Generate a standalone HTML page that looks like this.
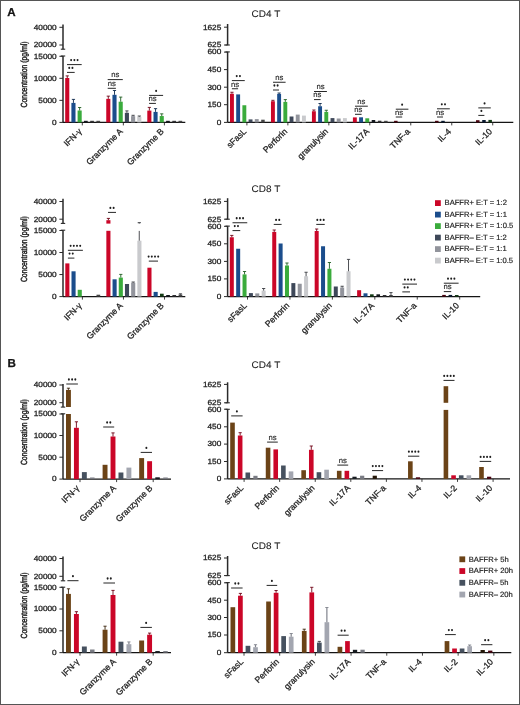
<!DOCTYPE html>
<html><head><meta charset="utf-8"><title>Figure</title>
<style>
html,body{margin:0;padding:0;background:#fff;overflow:hidden;width:520px;height:705px;}
svg{display:block;font-family:"Liberation Sans", sans-serif;will-change:transform;filter:blur(0.35px);}
text{stroke:#222;stroke-width:0.28px;text-rendering:geometricPrecision;}
</style></head>
<body>
<svg width="520" height="705" viewBox="0 0 520 705">
<rect x="0.5" y="0.5" width="519" height="704" fill="#fff" stroke="#555" stroke-width="1"/>
<text x="7.2" y="16.3" font-size="11.6" text-anchor="start" font-weight="bold" fill="#111" >A</text>
<text x="7.4" y="367.1" font-size="11.6" text-anchor="start" font-weight="bold" fill="#111" >B</text>
<line x1="63" y1="24.6" x2="63" y2="49.2" stroke="#2a2a2a" stroke-width="1.5"/>
<line x1="60.8" y1="49.2" x2="65.2" y2="49.2" stroke="#2a2a2a" stroke-width="1.1"/>
<line x1="63" y1="56" x2="63" y2="122.4" stroke="#2a2a2a" stroke-width="1.5"/>
<line x1="60.8" y1="56" x2="65.2" y2="56" stroke="#2a2a2a" stroke-width="1.1"/>
<line x1="59.4" y1="27.3" x2="63" y2="27.3" stroke="#2a2a2a" stroke-width="1"/>
<text transform="translate(56.7 29.6) scale(1.1 1)" font-size="7.5" text-anchor="end" fill="#222" >40000</text>
<line x1="59.4" y1="45" x2="63" y2="45" stroke="#2a2a2a" stroke-width="1"/>
<text transform="translate(56.7 47.3) scale(1.1 1)" font-size="7.5" text-anchor="end" fill="#222" >20000</text>
<line x1="59.4" y1="56.3" x2="63" y2="56.3" stroke="#2a2a2a" stroke-width="1"/>
<text transform="translate(56.7 58.6) scale(1.1 1)" font-size="7.5" text-anchor="end" fill="#222" >15000</text>
<line x1="59.4" y1="78.3" x2="63" y2="78.3" stroke="#2a2a2a" stroke-width="1"/>
<text transform="translate(56.7 80.6) scale(1.1 1)" font-size="7.5" text-anchor="end" fill="#222" >10000</text>
<line x1="59.4" y1="100.35" x2="63" y2="100.35" stroke="#2a2a2a" stroke-width="1"/>
<text transform="translate(56.7 102.65) scale(1.1 1)" font-size="7.5" text-anchor="end" fill="#222" >5000</text>
<line x1="59.4" y1="122.4" x2="63" y2="122.4" stroke="#2a2a2a" stroke-width="1"/>
<text transform="translate(56.7 124.7) scale(1.1 1)" font-size="7.5" text-anchor="end" fill="#222" >0</text>
<text transform="translate(26.8 74.4) rotate(-90)" x="0" y="0" font-size="8.9" text-anchor="middle" fill="#222" style="stroke-width:0.45px" textLength="66" lengthAdjust="spacingAndGlyphs">Concentration (pg/ml)</text>
<line x1="63" y1="122.4" x2="185.3" y2="122.4" stroke="#141414" stroke-width="1.3"/>
<line x1="82.3" y1="122.4" x2="82.3" y2="125.4" stroke="#2a2a2a" stroke-width="0.9"/>
<line x1="123.35" y1="122.4" x2="123.35" y2="125.4" stroke="#2a2a2a" stroke-width="0.9"/>
<line x1="164.4" y1="122.4" x2="164.4" y2="125.4" stroke="#2a2a2a" stroke-width="0.9"/>
<rect x="65.2" y="78" width="4.1" height="44.4" fill="#cb0628"/>
<line x1="67.25" y1="75.9" x2="67.25" y2="78" stroke="#6f0316" stroke-width="0.9"/>
<line x1="65.65" y1="75.9" x2="68.85" y2="75.9" stroke="#6f0316" stroke-width="0.9"/>
<rect x="71.4" y="102.9" width="4.1" height="19.5" fill="#1b4d8c"/>
<line x1="73.45" y1="99.4" x2="73.45" y2="102.9" stroke="#0e2a4d" stroke-width="0.9"/>
<line x1="71.85" y1="99.4" x2="75.05" y2="99.4" stroke="#0e2a4d" stroke-width="0.9"/>
<rect x="77.6" y="110.5" width="4.1" height="11.9" fill="#3aab3c"/>
<line x1="79.65" y1="107.5" x2="79.65" y2="110.5" stroke="#1f5e21" stroke-width="0.9"/>
<line x1="78.05" y1="107.5" x2="81.25" y2="107.5" stroke="#1f5e21" stroke-width="0.9"/>
<rect x="84" y="120.8" width="3.7" height="1.6" fill="#15191f"/>
<rect x="90.2" y="120.8" width="3.7" height="1.6" fill="#333336"/>
<rect x="96.4" y="120.8" width="3.7" height="1.6" fill="#464647"/>
<rect x="106.25" y="98.85" width="4.1" height="23.55" fill="#cb0628"/>
<line x1="108.3" y1="96.15" x2="108.3" y2="98.85" stroke="#6f0316" stroke-width="0.9"/>
<line x1="106.7" y1="96.15" x2="109.9" y2="96.15" stroke="#6f0316" stroke-width="0.9"/>
<rect x="112.45" y="94.8" width="4.1" height="27.6" fill="#1b4d8c"/>
<line x1="114.5" y1="90.5" x2="114.5" y2="94.8" stroke="#0e2a4d" stroke-width="0.9"/>
<line x1="112.9" y1="90.5" x2="116.1" y2="90.5" stroke="#0e2a4d" stroke-width="0.9"/>
<rect x="118.65" y="101.7" width="4.1" height="20.7" fill="#3aab3c"/>
<line x1="120.7" y1="97.1" x2="120.7" y2="101.7" stroke="#1f5e21" stroke-width="0.9"/>
<line x1="119.1" y1="97.1" x2="122.3" y2="97.1" stroke="#1f5e21" stroke-width="0.9"/>
<rect x="124.85" y="112.8" width="4.1" height="9.6" fill="#3e4859"/>
<line x1="126.9" y1="110.9" x2="126.9" y2="112.8" stroke="#3a3c42" stroke-width="0.9"/>
<line x1="125.3" y1="110.9" x2="128.5" y2="110.9" stroke="#3a3c42" stroke-width="0.9"/>
<rect x="131.05" y="116.15" width="4.1" height="6.25" fill="#92949c"/>
<line x1="133.1" y1="115.3" x2="133.1" y2="116.15" stroke="#3a3c42" stroke-width="0.9"/>
<line x1="131.5" y1="115.3" x2="134.7" y2="115.3" stroke="#3a3c42" stroke-width="0.9"/>
<rect x="137.25" y="116.8" width="4.1" height="5.6" fill="#c9cacd"/>
<line x1="139.3" y1="116" x2="139.3" y2="116.8" stroke="#3a3c42" stroke-width="0.9"/>
<line x1="137.7" y1="116" x2="140.9" y2="116" stroke="#3a3c42" stroke-width="0.9"/>
<rect x="147.3" y="110.6" width="4.1" height="11.8" fill="#cb0628"/>
<line x1="149.35" y1="107.4" x2="149.35" y2="110.6" stroke="#6f0316" stroke-width="0.9"/>
<line x1="147.75" y1="107.4" x2="150.95" y2="107.4" stroke="#6f0316" stroke-width="0.9"/>
<rect x="153.5" y="111.9" width="4.1" height="10.5" fill="#1b4d8c"/>
<line x1="155.55" y1="108.65" x2="155.55" y2="111.9" stroke="#0e2a4d" stroke-width="0.9"/>
<line x1="153.95" y1="108.65" x2="157.15" y2="108.65" stroke="#0e2a4d" stroke-width="0.9"/>
<rect x="159.7" y="116.05" width="4.1" height="6.35" fill="#3aab3c"/>
<line x1="161.75" y1="113.85" x2="161.75" y2="116.05" stroke="#1f5e21" stroke-width="0.9"/>
<line x1="160.15" y1="113.85" x2="163.35" y2="113.85" stroke="#1f5e21" stroke-width="0.9"/>
<rect x="166.1" y="120.8" width="3.7" height="1.6" fill="#15191f"/>
<rect x="172.3" y="120.8" width="3.7" height="1.6" fill="#333336"/>
<rect x="178.5" y="120.8" width="3.7" height="1.6" fill="#464647"/>
<line x1="67" y1="64.6" x2="81.7" y2="64.6" stroke="#262626" stroke-width="1"/>
<ellipse cx="71.15" cy="60.1" rx="1.0" ry="1.15" fill="#1e1e1e"/>
<ellipse cx="74.35" cy="60.1" rx="1.0" ry="1.15" fill="#1e1e1e"/>
<ellipse cx="77.55" cy="60.1" rx="1.0" ry="1.15" fill="#1e1e1e"/>
<line x1="67" y1="72.4" x2="74.7" y2="72.4" stroke="#262626" stroke-width="1"/>
<ellipse cx="69.25" cy="67.9" rx="1.0" ry="1.15" fill="#1e1e1e"/>
<ellipse cx="72.45" cy="67.9" rx="1.0" ry="1.15" fill="#1e1e1e"/>
<line x1="107.7" y1="79.6" x2="122.8" y2="79.6" stroke="#262626" stroke-width="1"/>
<text x="115.25" y="77.4" font-size="7.7" text-anchor="middle" font-weight="normal" fill="#222" style="stroke-width:0.12px">ns</text>
<line x1="107.7" y1="88.3" x2="115.9" y2="88.3" stroke="#262626" stroke-width="1"/>
<text x="111.8" y="86.1" font-size="7.7" text-anchor="middle" font-weight="normal" fill="#222" style="stroke-width:0.12px">ns</text>
<line x1="149.1" y1="95.4" x2="163.1" y2="95.4" stroke="#262626" stroke-width="1"/>
<ellipse cx="156.1" cy="90.9" rx="1.0" ry="1.15" fill="#1e1e1e"/>
<line x1="149.1" y1="103.4" x2="155.9" y2="103.4" stroke="#262626" stroke-width="1"/>
<text x="152.5" y="101.2" font-size="7.7" text-anchor="middle" font-weight="normal" fill="#222" style="stroke-width:0.12px">ns</text>
<text transform="translate(82.2 132) rotate(-45)" x="0" y="0" font-size="8.6" text-anchor="end" fill="#222">IFN-&#947;</text>
<text transform="translate(123.25 132) rotate(-45)" x="0" y="0" font-size="8.6" text-anchor="end" fill="#222">Granzyme A</text>
<text transform="translate(164.3 132) rotate(-45)" x="0" y="0" font-size="8.6" text-anchor="end" fill="#222">Granzyme B</text>
<line x1="63" y1="198.8" x2="63" y2="223.4" stroke="#2a2a2a" stroke-width="1.5"/>
<line x1="60.8" y1="223.4" x2="65.2" y2="223.4" stroke="#2a2a2a" stroke-width="1.1"/>
<line x1="63" y1="230.2" x2="63" y2="296.6" stroke="#2a2a2a" stroke-width="1.5"/>
<line x1="60.8" y1="230.2" x2="65.2" y2="230.2" stroke="#2a2a2a" stroke-width="1.1"/>
<line x1="59.4" y1="201.5" x2="63" y2="201.5" stroke="#2a2a2a" stroke-width="1"/>
<text transform="translate(56.7 203.8) scale(1.1 1)" font-size="7.5" text-anchor="end" fill="#222" >40000</text>
<line x1="59.4" y1="219.2" x2="63" y2="219.2" stroke="#2a2a2a" stroke-width="1"/>
<text transform="translate(56.7 221.5) scale(1.1 1)" font-size="7.5" text-anchor="end" fill="#222" >20000</text>
<line x1="59.4" y1="230.5" x2="63" y2="230.5" stroke="#2a2a2a" stroke-width="1"/>
<text transform="translate(56.7 232.8) scale(1.1 1)" font-size="7.5" text-anchor="end" fill="#222" >15000</text>
<line x1="59.4" y1="252.5" x2="63" y2="252.5" stroke="#2a2a2a" stroke-width="1"/>
<text transform="translate(56.7 254.8) scale(1.1 1)" font-size="7.5" text-anchor="end" fill="#222" >10000</text>
<line x1="59.4" y1="274.55" x2="63" y2="274.55" stroke="#2a2a2a" stroke-width="1"/>
<text transform="translate(56.7 276.85) scale(1.1 1)" font-size="7.5" text-anchor="end" fill="#222" >5000</text>
<line x1="59.4" y1="296.6" x2="63" y2="296.6" stroke="#2a2a2a" stroke-width="1"/>
<text transform="translate(56.7 298.9) scale(1.1 1)" font-size="7.5" text-anchor="end" fill="#222" >0</text>
<text transform="translate(26.8 249.1) rotate(-90)" x="0" y="0" font-size="8.9" text-anchor="middle" fill="#222" style="stroke-width:0.45px" textLength="66" lengthAdjust="spacingAndGlyphs">Concentration (pg/ml)</text>
<line x1="63" y1="296.6" x2="185.3" y2="296.6" stroke="#141414" stroke-width="1.3"/>
<line x1="82.4" y1="296.6" x2="82.4" y2="299.6" stroke="#2a2a2a" stroke-width="0.9"/>
<line x1="123.45" y1="296.6" x2="123.45" y2="299.6" stroke="#2a2a2a" stroke-width="0.9"/>
<line x1="164.5" y1="296.6" x2="164.5" y2="299.6" stroke="#2a2a2a" stroke-width="0.9"/>
<rect x="65.3" y="263.4" width="4.1" height="33.2" fill="#cb0628"/>
<rect x="71.5" y="271.3" width="4.1" height="25.3" fill="#1b4d8c"/>
<rect x="77.7" y="289.8" width="4.1" height="6.8" fill="#3aab3c"/>
<rect x="96.5" y="294.7" width="3.7" height="1.9" fill="#464647"/>
<rect x="106.35" y="230.8" width="4.1" height="65.8" fill="#cb0628"/>
<rect x="106.35" y="220.2" width="4.1" height="3.4" fill="#cb0628"/>
<line x1="108.4" y1="218.4" x2="108.4" y2="220.2" stroke="#6f0316" stroke-width="0.9"/>
<line x1="106.8" y1="218.4" x2="110" y2="218.4" stroke="#6f0316" stroke-width="0.9"/>
<rect x="112.55" y="279.3" width="4.1" height="17.3" fill="#1b4d8c"/>
<rect x="118.75" y="277.6" width="4.1" height="19" fill="#3aab3c"/>
<line x1="120.8" y1="274.4" x2="120.8" y2="277.6" stroke="#1f5e21" stroke-width="0.9"/>
<line x1="119.2" y1="274.4" x2="122.4" y2="274.4" stroke="#1f5e21" stroke-width="0.9"/>
<rect x="124.95" y="284" width="4.1" height="12.6" fill="#3e4859"/>
<rect x="131.15" y="282.75" width="4.1" height="13.85" fill="#92949c"/>
<line x1="133.2" y1="282" x2="133.2" y2="282.75" stroke="#3a3c42" stroke-width="0.9"/>
<line x1="131.6" y1="282" x2="134.8" y2="282" stroke="#3a3c42" stroke-width="0.9"/>
<rect x="137.35" y="240.7" width="4.1" height="55.9" fill="#c9cacd"/>
<rect x="147.4" y="267.7" width="4.1" height="28.9" fill="#cb0628"/>
<rect x="153.6" y="291.9" width="4.1" height="4.7" fill="#1b4d8c"/>
<rect x="160" y="293.7" width="3.7" height="2.9" fill="#143b15"/>
<rect x="166.2" y="295" width="3.7" height="1.6" fill="#15191f"/>
<rect x="172.4" y="295" width="3.7" height="1.6" fill="#333336"/>
<rect x="178.6" y="294.5" width="3.7" height="2.1" fill="#464647"/>
<line x1="180.45" y1="293.8" x2="180.45" y2="294.8" stroke="#3a3c42" stroke-width="0.9"/>
<line x1="178.85" y1="293.8" x2="182.05" y2="293.8" stroke="#3a3c42" stroke-width="0.9"/>
<line x1="67.9" y1="250.3" x2="82.9" y2="250.3" stroke="#262626" stroke-width="1"/>
<ellipse cx="70.6" cy="245.8" rx="1.0" ry="1.15" fill="#1e1e1e"/>
<ellipse cx="73.8" cy="245.8" rx="1.0" ry="1.15" fill="#1e1e1e"/>
<ellipse cx="77" cy="245.8" rx="1.0" ry="1.15" fill="#1e1e1e"/>
<ellipse cx="80.2" cy="245.8" rx="1.0" ry="1.15" fill="#1e1e1e"/>
<line x1="67.9" y1="258.1" x2="74.4" y2="258.1" stroke="#262626" stroke-width="1"/>
<ellipse cx="69.55" cy="253.6" rx="1.0" ry="1.15" fill="#1e1e1e"/>
<ellipse cx="72.75" cy="253.6" rx="1.0" ry="1.15" fill="#1e1e1e"/>
<line x1="108" y1="212.4" x2="116" y2="212.4" stroke="#262626" stroke-width="1"/>
<ellipse cx="110.4" cy="207.9" rx="1.0" ry="1.15" fill="#1e1e1e"/>
<ellipse cx="113.6" cy="207.9" rx="1.0" ry="1.15" fill="#1e1e1e"/>
<line x1="148.8" y1="261.1" x2="158" y2="261.1" stroke="#262626" stroke-width="1"/>
<ellipse cx="148.6" cy="256.6" rx="1.0" ry="1.15" fill="#1e1e1e"/>
<ellipse cx="151.8" cy="256.6" rx="1.0" ry="1.15" fill="#1e1e1e"/>
<ellipse cx="155" cy="256.6" rx="1.0" ry="1.15" fill="#1e1e1e"/>
<ellipse cx="158.2" cy="256.6" rx="1.0" ry="1.15" fill="#1e1e1e"/>
<text transform="translate(82.3 306.2) rotate(-45)" x="0" y="0" font-size="8.6" text-anchor="end" fill="#222">IFN-&#947;</text>
<text transform="translate(123.35 306.2) rotate(-45)" x="0" y="0" font-size="8.6" text-anchor="end" fill="#222">Granzyme A</text>
<text transform="translate(164.4 306.2) rotate(-45)" x="0" y="0" font-size="8.6" text-anchor="end" fill="#222">Granzyme B</text>
<line x1="139.25" y1="230.9" x2="139.25" y2="240.7" stroke="#3a3c42" stroke-width="0.9"/>
<line x1="137.7" y1="222.7" x2="140.9" y2="222.7" stroke="#3a3c42" stroke-width="1"/>
<line x1="139.25" y1="222.7" x2="139.25" y2="223.6" stroke="#3a3c42" stroke-width="0.9"/>
<line x1="63" y1="384" x2="63" y2="407.1" stroke="#2a2a2a" stroke-width="1.5"/>
<line x1="60.8" y1="407.1" x2="65.2" y2="407.1" stroke="#2a2a2a" stroke-width="1.1"/>
<line x1="63" y1="413.8" x2="63" y2="479.1" stroke="#2a2a2a" stroke-width="1.5"/>
<line x1="60.8" y1="413.8" x2="65.2" y2="413.8" stroke="#2a2a2a" stroke-width="1.1"/>
<line x1="59.4" y1="385" x2="63" y2="385" stroke="#2a2a2a" stroke-width="1"/>
<text transform="translate(56.7 387.3) scale(1.1 1)" font-size="7.5" text-anchor="end" fill="#222" >40000</text>
<line x1="59.4" y1="402.7" x2="63" y2="402.7" stroke="#2a2a2a" stroke-width="1"/>
<text transform="translate(56.7 405) scale(1.1 1)" font-size="7.5" text-anchor="end" fill="#222" >20000</text>
<line x1="59.4" y1="414" x2="63" y2="414" stroke="#2a2a2a" stroke-width="1"/>
<text transform="translate(56.7 416.3) scale(1.1 1)" font-size="7.5" text-anchor="end" fill="#222" >15000</text>
<line x1="59.4" y1="435.5" x2="63" y2="435.5" stroke="#2a2a2a" stroke-width="1"/>
<text transform="translate(56.7 437.8) scale(1.1 1)" font-size="7.5" text-anchor="end" fill="#222" >10000</text>
<line x1="59.4" y1="457.2" x2="63" y2="457.2" stroke="#2a2a2a" stroke-width="1"/>
<text transform="translate(56.7 459.5) scale(1.1 1)" font-size="7.5" text-anchor="end" fill="#222" >5000</text>
<line x1="59.4" y1="479.1" x2="63" y2="479.1" stroke="#2a2a2a" stroke-width="1"/>
<text transform="translate(56.7 481.4) scale(1.1 1)" font-size="7.5" text-anchor="end" fill="#222" >0</text>
<text transform="translate(26.8 432.1) rotate(-90)" x="0" y="0" font-size="8.9" text-anchor="middle" fill="#222" style="stroke-width:0.45px" textLength="66" lengthAdjust="spacingAndGlyphs">Concentration (pg/ml)</text>
<line x1="63" y1="479.1" x2="171" y2="479.1" stroke="#141414" stroke-width="1.3"/>
<line x1="80" y1="479.1" x2="80" y2="482.1" stroke="#2a2a2a" stroke-width="0.9"/>
<line x1="116.6" y1="479.1" x2="116.6" y2="482.1" stroke="#2a2a2a" stroke-width="0.9"/>
<line x1="153.2" y1="479.1" x2="153.2" y2="482.1" stroke="#2a2a2a" stroke-width="0.9"/>
<rect x="66" y="414" width="4.9" height="65.1" fill="#6b4317"/>
<rect x="66" y="389.9" width="4.9" height="17.1" fill="#6b4317"/>
<line x1="68.45" y1="388.2" x2="68.45" y2="389.9" stroke="#3a240c" stroke-width="0.9"/>
<line x1="66.85" y1="388.2" x2="70.05" y2="388.2" stroke="#3a240c" stroke-width="0.9"/>
<rect x="73.95" y="427.8" width="4.9" height="51.3" fill="#cb0628"/>
<line x1="76.4" y1="421.8" x2="76.4" y2="427.8" stroke="#6f0316" stroke-width="0.9"/>
<line x1="74.8" y1="421.8" x2="78" y2="421.8" stroke="#6f0316" stroke-width="0.9"/>
<rect x="81.9" y="472.1" width="4.9" height="7" fill="#46515f"/>
<rect x="90.05" y="477.5" width="4.5" height="1.6" fill="#7a7c84"/>
<rect x="102.6" y="464.8" width="4.9" height="14.3" fill="#6b4317"/>
<rect x="110.55" y="436.5" width="4.9" height="42.6" fill="#cb0628"/>
<line x1="113" y1="432.9" x2="113" y2="436.5" stroke="#6f0316" stroke-width="0.9"/>
<line x1="111.4" y1="432.9" x2="114.6" y2="432.9" stroke="#6f0316" stroke-width="0.9"/>
<rect x="118.5" y="472.5" width="4.9" height="6.6" fill="#46515f"/>
<rect x="126.45" y="467.6" width="4.9" height="11.5" fill="#a3a6b0"/>
<rect x="139.2" y="458.1" width="4.9" height="21" fill="#6b4317"/>
<rect x="147.15" y="461.2" width="4.9" height="17.9" fill="#cb0628"/>
<rect x="155.3" y="477.3" width="4.5" height="1.8" fill="#181c21"/>
<rect x="163.25" y="477.5" width="4.5" height="1.6" fill="#7a7c84"/>
<line x1="66.3" y1="384" x2="77.9" y2="384" stroke="#262626" stroke-width="1"/>
<ellipse cx="68.9" cy="379.5" rx="1.0" ry="1.15" fill="#1e1e1e"/>
<ellipse cx="72.1" cy="379.5" rx="1.0" ry="1.15" fill="#1e1e1e"/>
<ellipse cx="75.3" cy="379.5" rx="1.0" ry="1.15" fill="#1e1e1e"/>
<line x1="103.2" y1="427" x2="114.2" y2="427" stroke="#262626" stroke-width="1"/>
<ellipse cx="107.1" cy="422.5" rx="1.0" ry="1.15" fill="#1e1e1e"/>
<ellipse cx="110.3" cy="422.5" rx="1.0" ry="1.15" fill="#1e1e1e"/>
<line x1="140.7" y1="452.4" x2="152" y2="452.4" stroke="#262626" stroke-width="1"/>
<ellipse cx="146.35" cy="447.9" rx="1.0" ry="1.15" fill="#1e1e1e"/>
<text transform="translate(79.9 488.7) rotate(-45)" x="0" y="0" font-size="8.6" text-anchor="end" fill="#222">IFN-&#947;</text>
<text transform="translate(116.5 488.7) rotate(-45)" x="0" y="0" font-size="8.6" text-anchor="end" fill="#222">Granzyme A</text>
<text transform="translate(153.1 488.7) rotate(-45)" x="0" y="0" font-size="8.6" text-anchor="end" fill="#222">Granzyme B</text>
<line x1="63" y1="556.5" x2="63" y2="580.8" stroke="#2a2a2a" stroke-width="1.5"/>
<line x1="60.8" y1="580.8" x2="65.2" y2="580.8" stroke="#2a2a2a" stroke-width="1.1"/>
<line x1="63" y1="587.2" x2="63" y2="652.65" stroke="#2a2a2a" stroke-width="1.5"/>
<line x1="60.8" y1="587.2" x2="65.2" y2="587.2" stroke="#2a2a2a" stroke-width="1.1"/>
<line x1="59.4" y1="558.5" x2="63" y2="558.5" stroke="#2a2a2a" stroke-width="1"/>
<text transform="translate(56.7 560.8) scale(1.1 1)" font-size="7.5" text-anchor="end" fill="#222" >40000</text>
<line x1="59.4" y1="576.3" x2="63" y2="576.3" stroke="#2a2a2a" stroke-width="1"/>
<text transform="translate(56.7 578.6) scale(1.1 1)" font-size="7.5" text-anchor="end" fill="#222" >20000</text>
<line x1="59.4" y1="587.3" x2="63" y2="587.3" stroke="#2a2a2a" stroke-width="1"/>
<text transform="translate(56.7 589.6) scale(1.1 1)" font-size="7.5" text-anchor="end" fill="#222" >15000</text>
<line x1="59.4" y1="609" x2="63" y2="609" stroke="#2a2a2a" stroke-width="1"/>
<text transform="translate(56.7 611.3) scale(1.1 1)" font-size="7.5" text-anchor="end" fill="#222" >10000</text>
<line x1="59.4" y1="630.8" x2="63" y2="630.8" stroke="#2a2a2a" stroke-width="1"/>
<text transform="translate(56.7 633.1) scale(1.1 1)" font-size="7.5" text-anchor="end" fill="#222" >5000</text>
<line x1="59.4" y1="652.65" x2="63" y2="652.65" stroke="#2a2a2a" stroke-width="1"/>
<text transform="translate(56.7 654.95) scale(1.1 1)" font-size="7.5" text-anchor="end" fill="#222" >0</text>
<text transform="translate(26.8 605.4) rotate(-90)" x="0" y="0" font-size="8.9" text-anchor="middle" fill="#222" style="stroke-width:0.45px" textLength="66" lengthAdjust="spacingAndGlyphs">Concentration (pg/ml)</text>
<line x1="63" y1="652.65" x2="171" y2="652.65" stroke="#141414" stroke-width="1.3"/>
<line x1="80" y1="652.65" x2="80" y2="655.65" stroke="#2a2a2a" stroke-width="0.9"/>
<line x1="116.6" y1="652.65" x2="116.6" y2="655.65" stroke="#2a2a2a" stroke-width="0.9"/>
<line x1="153.2" y1="652.65" x2="153.2" y2="655.65" stroke="#2a2a2a" stroke-width="0.9"/>
<rect x="66" y="593.9" width="4.9" height="58.75" fill="#6b4317"/>
<line x1="68.45" y1="588.8" x2="68.45" y2="593.9" stroke="#3a240c" stroke-width="0.9"/>
<line x1="66.85" y1="588.8" x2="70.05" y2="588.8" stroke="#3a240c" stroke-width="0.9"/>
<rect x="73.95" y="614" width="4.9" height="38.65" fill="#cb0628"/>
<line x1="76.4" y1="611.7" x2="76.4" y2="614" stroke="#6f0316" stroke-width="0.9"/>
<line x1="74.8" y1="611.7" x2="78" y2="611.7" stroke="#6f0316" stroke-width="0.9"/>
<rect x="81.9" y="646.5" width="4.9" height="6.15" fill="#46515f"/>
<rect x="90.05" y="649.5" width="4.5" height="3.15" fill="#7a7c84"/>
<rect x="102.6" y="629.7" width="4.9" height="22.95" fill="#6b4317"/>
<line x1="105.05" y1="626.2" x2="105.05" y2="629.7" stroke="#3a240c" stroke-width="0.9"/>
<line x1="103.45" y1="626.2" x2="106.65" y2="626.2" stroke="#3a240c" stroke-width="0.9"/>
<rect x="110.55" y="595" width="4.9" height="57.65" fill="#cb0628"/>
<line x1="113" y1="590.4" x2="113" y2="595" stroke="#6f0316" stroke-width="0.9"/>
<line x1="111.4" y1="590.4" x2="114.6" y2="590.4" stroke="#6f0316" stroke-width="0.9"/>
<rect x="118.5" y="641.7" width="4.9" height="10.95" fill="#46515f"/>
<rect x="126.45" y="644.2" width="4.9" height="8.45" fill="#a3a6b0"/>
<line x1="128.9" y1="641.9" x2="128.9" y2="644.2" stroke="#80838c" stroke-width="1.2"/>
<line x1="127.3" y1="641.9" x2="130.5" y2="641.9" stroke="#80838c" stroke-width="0.9"/>
<rect x="139.2" y="640.5" width="4.9" height="12.15" fill="#6b4317"/>
<rect x="147.15" y="634.7" width="4.9" height="17.95" fill="#cb0628"/>
<line x1="149.6" y1="633.1" x2="149.6" y2="634.7" stroke="#6f0316" stroke-width="0.9"/>
<line x1="148" y1="633.1" x2="151.2" y2="633.1" stroke="#6f0316" stroke-width="0.9"/>
<rect x="155.3" y="651.05" width="4.5" height="1.6" fill="#181c21"/>
<rect x="163.25" y="651.05" width="4.5" height="1.6" fill="#7a7c84"/>
<line x1="67.4" y1="580.7" x2="78.5" y2="580.7" stroke="#262626" stroke-width="1"/>
<ellipse cx="72.95" cy="576.2" rx="1.0" ry="1.15" fill="#1e1e1e"/>
<line x1="103.4" y1="583" x2="115" y2="583" stroke="#262626" stroke-width="1"/>
<ellipse cx="107.6" cy="578.5" rx="1.0" ry="1.15" fill="#1e1e1e"/>
<ellipse cx="110.8" cy="578.5" rx="1.0" ry="1.15" fill="#1e1e1e"/>
<line x1="140.4" y1="627.4" x2="151.9" y2="627.4" stroke="#262626" stroke-width="1"/>
<ellipse cx="146.15" cy="622.9" rx="1.0" ry="1.15" fill="#1e1e1e"/>
<text transform="translate(79.9 662.25) rotate(-45)" x="0" y="0" font-size="8.6" text-anchor="end" fill="#222">IFN-&#947;</text>
<text transform="translate(116.5 662.25) rotate(-45)" x="0" y="0" font-size="8.6" text-anchor="end" fill="#222">Granzyme A</text>
<text transform="translate(153.1 662.25) rotate(-45)" x="0" y="0" font-size="8.6" text-anchor="end" fill="#222">Granzyme B</text>
<line x1="227.6" y1="24" x2="227.6" y2="45" stroke="#2a2a2a" stroke-width="1.5"/>
<line x1="225.4" y1="45" x2="229.8" y2="45" stroke="#2a2a2a" stroke-width="1.1"/>
<line x1="227.6" y1="51.9" x2="227.6" y2="122.4" stroke="#2a2a2a" stroke-width="1.5"/>
<line x1="225.4" y1="51.9" x2="229.8" y2="51.9" stroke="#2a2a2a" stroke-width="1.1"/>
<line x1="224" y1="27.2" x2="227.6" y2="27.2" stroke="#2a2a2a" stroke-width="1"/>
<text transform="translate(221.3 29.5) scale(1.1 1)" font-size="7.5" text-anchor="end" fill="#222" >1625</text>
<line x1="224" y1="45" x2="227.6" y2="45" stroke="#2a2a2a" stroke-width="1"/>
<text transform="translate(221.3 47.3) scale(1.1 1)" font-size="7.5" text-anchor="end" fill="#222" >625</text>
<line x1="224" y1="52.1" x2="227.6" y2="52.1" stroke="#2a2a2a" stroke-width="1"/>
<text transform="translate(221.3 54.4) scale(1.1 1)" font-size="7.5" text-anchor="end" fill="#222" >600</text>
<line x1="224" y1="69.6" x2="227.6" y2="69.6" stroke="#2a2a2a" stroke-width="1"/>
<text transform="translate(221.3 71.9) scale(1.1 1)" font-size="7.5" text-anchor="end" fill="#222" >450</text>
<line x1="224" y1="87.2" x2="227.6" y2="87.2" stroke="#2a2a2a" stroke-width="1"/>
<text transform="translate(221.3 89.5) scale(1.1 1)" font-size="7.5" text-anchor="end" fill="#222" >300</text>
<line x1="224" y1="104.7" x2="227.6" y2="104.7" stroke="#2a2a2a" stroke-width="1"/>
<text transform="translate(221.3 107) scale(1.1 1)" font-size="7.5" text-anchor="end" fill="#222" >150</text>
<line x1="224" y1="122.4" x2="227.6" y2="122.4" stroke="#2a2a2a" stroke-width="1"/>
<text transform="translate(221.3 124.7) scale(1.1 1)" font-size="7.5" text-anchor="end" fill="#222" >0</text>
<text transform="translate(265.9 17) scale(1.04 1)" font-size="9.6" text-anchor="middle" fill="#222" style="stroke-width:0.08px">CD4 T</text>
<line x1="227.6" y1="122.4" x2="513.3" y2="122.4" stroke="#141414" stroke-width="1.3"/>
<line x1="246.9" y1="122.4" x2="246.9" y2="125.4" stroke="#2a2a2a" stroke-width="0.9"/>
<line x1="287.87" y1="122.4" x2="287.87" y2="125.4" stroke="#2a2a2a" stroke-width="0.9"/>
<line x1="328.84" y1="122.4" x2="328.84" y2="125.4" stroke="#2a2a2a" stroke-width="0.9"/>
<line x1="369.81" y1="122.4" x2="369.81" y2="125.4" stroke="#2a2a2a" stroke-width="0.9"/>
<line x1="410.78" y1="122.4" x2="410.78" y2="125.4" stroke="#2a2a2a" stroke-width="0.9"/>
<line x1="451.75" y1="122.4" x2="451.75" y2="125.4" stroke="#2a2a2a" stroke-width="0.9"/>
<line x1="492.72" y1="122.4" x2="492.72" y2="125.4" stroke="#2a2a2a" stroke-width="0.9"/>
<rect x="230" y="93.75" width="3.9" height="28.65" fill="#cb0628"/>
<line x1="231.95" y1="92.25" x2="231.95" y2="93.75" stroke="#6f0316" stroke-width="0.9"/>
<line x1="230.35" y1="92.25" x2="233.55" y2="92.25" stroke="#6f0316" stroke-width="0.9"/>
<rect x="236.2" y="94.4" width="3.9" height="28" fill="#1b4d8c"/>
<rect x="242.4" y="105.25" width="3.9" height="17.15" fill="#3aab3c"/>
<rect x="248.6" y="119.4" width="3.9" height="3" fill="#3e4859"/>
<rect x="254.8" y="119.1" width="3.9" height="3.3" fill="#92949c"/>
<rect x="261.2" y="119.7" width="3.5" height="2.7" fill="#464647"/>
<rect x="270.97" y="101.25" width="3.9" height="21.15" fill="#cb0628"/>
<line x1="272.92" y1="100.3" x2="272.92" y2="101.25" stroke="#6f0316" stroke-width="0.9"/>
<line x1="271.32" y1="100.3" x2="274.52" y2="100.3" stroke="#6f0316" stroke-width="0.9"/>
<rect x="277.17" y="94" width="3.9" height="28.4" fill="#1b4d8c"/>
<line x1="279.12" y1="93" x2="279.12" y2="94" stroke="#0e2a4d" stroke-width="0.9"/>
<line x1="277.52" y1="93" x2="280.72" y2="93" stroke="#0e2a4d" stroke-width="0.9"/>
<rect x="283.37" y="101.9" width="3.9" height="20.5" fill="#3aab3c"/>
<line x1="285.32" y1="99.6" x2="285.32" y2="101.9" stroke="#1f5e21" stroke-width="0.9"/>
<line x1="283.72" y1="99.6" x2="286.92" y2="99.6" stroke="#1f5e21" stroke-width="0.9"/>
<rect x="289.57" y="116.5" width="3.9" height="5.9" fill="#3e4859"/>
<rect x="295.77" y="114.6" width="3.9" height="7.8" fill="#92949c"/>
<rect x="301.97" y="115.6" width="3.9" height="6.8" fill="#c9cacd"/>
<rect x="311.94" y="111.25" width="3.9" height="11.15" fill="#cb0628"/>
<line x1="313.89" y1="110" x2="313.89" y2="111.25" stroke="#6f0316" stroke-width="0.9"/>
<line x1="312.29" y1="110" x2="315.49" y2="110" stroke="#6f0316" stroke-width="0.9"/>
<rect x="318.14" y="106.25" width="3.9" height="16.15" fill="#1b4d8c"/>
<line x1="320.09" y1="103.5" x2="320.09" y2="106.25" stroke="#0e2a4d" stroke-width="0.9"/>
<line x1="318.49" y1="103.5" x2="321.69" y2="103.5" stroke="#0e2a4d" stroke-width="0.9"/>
<rect x="324.34" y="111.9" width="3.9" height="10.5" fill="#3aab3c"/>
<line x1="326.29" y1="110.25" x2="326.29" y2="111.9" stroke="#1f5e21" stroke-width="0.9"/>
<line x1="324.69" y1="110.25" x2="327.89" y2="110.25" stroke="#1f5e21" stroke-width="0.9"/>
<rect x="330.54" y="118.1" width="3.9" height="4.3" fill="#3e4859"/>
<rect x="336.74" y="118.5" width="3.9" height="3.9" fill="#92949c"/>
<rect x="342.94" y="118.1" width="3.9" height="4.3" fill="#c9cacd"/>
<rect x="352.91" y="117.4" width="3.9" height="5" fill="#cb0628"/>
<rect x="359.11" y="117.3" width="3.9" height="5.1" fill="#1b4d8c"/>
<rect x="365.31" y="118.3" width="3.9" height="4.1" fill="#3aab3c"/>
<rect x="371.71" y="120" width="3.5" height="2.4" fill="#15191f"/>
<rect x="377.91" y="120.7" width="3.5" height="1.7" fill="#333336"/>
<rect x="384.11" y="120.8" width="3.5" height="1.6" fill="#464647"/>
<rect x="394.08" y="120.8" width="3.5" height="1.6" fill="#47020e"/>
<rect x="435.05" y="120.8" width="3.5" height="1.6" fill="#47020e"/>
<rect x="441.25" y="120.8" width="3.5" height="1.6" fill="#091a31"/>
<rect x="476.02" y="120.2" width="3.5" height="2.2" fill="#47020e"/>
<rect x="482.22" y="120" width="3.5" height="2.4" fill="#091a31"/>
<rect x="488.42" y="119.9" width="3.5" height="2.5" fill="#143b15"/>
<line x1="231.9" y1="80.6" x2="244.75" y2="80.6" stroke="#262626" stroke-width="1"/>
<ellipse cx="236.72" cy="76.1" rx="1.0" ry="1.15" fill="#1e1e1e"/>
<ellipse cx="239.92" cy="76.1" rx="1.0" ry="1.15" fill="#1e1e1e"/>
<line x1="231.9" y1="88.75" x2="238.1" y2="88.75" stroke="#262626" stroke-width="1"/>
<text x="235" y="86.55" font-size="7.7" text-anchor="middle" font-weight="normal" fill="#222" style="stroke-width:0.12px">ns</text>
<line x1="273" y1="82.25" x2="285.6" y2="82.25" stroke="#262626" stroke-width="1"/>
<text x="279.3" y="80.05" font-size="7.7" text-anchor="middle" font-weight="normal" fill="#222" style="stroke-width:0.12px">ns</text>
<line x1="273" y1="90" x2="279" y2="90" stroke="#262626" stroke-width="1"/>
<ellipse cx="274.4" cy="85.5" rx="1.0" ry="1.15" fill="#1e1e1e"/>
<ellipse cx="277.6" cy="85.5" rx="1.0" ry="1.15" fill="#1e1e1e"/>
<line x1="314" y1="91.5" x2="326.9" y2="91.5" stroke="#262626" stroke-width="1"/>
<text x="320.45" y="89.3" font-size="7.7" text-anchor="middle" font-weight="normal" fill="#222" style="stroke-width:0.12px">ns</text>
<line x1="314" y1="99.6" x2="320.6" y2="99.6" stroke="#262626" stroke-width="1"/>
<text x="317.3" y="97.4" font-size="7.7" text-anchor="middle" font-weight="normal" fill="#222" style="stroke-width:0.12px">ns</text>
<line x1="355" y1="106.2" x2="367.8" y2="106.2" stroke="#262626" stroke-width="1"/>
<text x="361.4" y="104" font-size="7.7" text-anchor="middle" font-weight="normal" fill="#222" style="stroke-width:0.12px">ns</text>
<line x1="355" y1="114.3" x2="361.6" y2="114.3" stroke="#262626" stroke-width="1"/>
<text x="358.3" y="112.1" font-size="7.7" text-anchor="middle" font-weight="normal" fill="#222" style="stroke-width:0.12px">ns</text>
<line x1="395.8" y1="109.2" x2="408.4" y2="109.2" stroke="#262626" stroke-width="1"/>
<ellipse cx="402.1" cy="104.7" rx="1.0" ry="1.15" fill="#1e1e1e"/>
<line x1="395.8" y1="117" x2="402.2" y2="117" stroke="#262626" stroke-width="1"/>
<text x="399" y="114.8" font-size="7.7" text-anchor="middle" font-weight="normal" fill="#222" style="stroke-width:0.12px">ns</text>
<line x1="437" y1="108.8" x2="449.8" y2="108.8" stroke="#262626" stroke-width="1"/>
<ellipse cx="441.8" cy="104.3" rx="1.0" ry="1.15" fill="#1e1e1e"/>
<ellipse cx="445" cy="104.3" rx="1.0" ry="1.15" fill="#1e1e1e"/>
<line x1="437" y1="117" x2="443" y2="117" stroke="#262626" stroke-width="1"/>
<text x="440" y="114.8" font-size="7.7" text-anchor="middle" font-weight="normal" fill="#222" style="stroke-width:0.12px">ns</text>
<line x1="478.3" y1="107.9" x2="490.8" y2="107.9" stroke="#262626" stroke-width="1"/>
<ellipse cx="484.55" cy="103.4" rx="1.0" ry="1.15" fill="#1e1e1e"/>
<line x1="478.3" y1="115.4" x2="484.4" y2="115.4" stroke="#262626" stroke-width="1"/>
<ellipse cx="481.35" cy="110.9" rx="1.0" ry="1.15" fill="#1e1e1e"/>
<text transform="translate(246.8 132) rotate(-45)" x="0" y="0" font-size="8.6" text-anchor="end" fill="#222">sFasL</text>
<text transform="translate(287.77 132) rotate(-45)" x="0" y="0" font-size="8.6" text-anchor="end" fill="#222">Perforin</text>
<text transform="translate(328.74 132) rotate(-45)" x="0" y="0" font-size="8.6" text-anchor="end" fill="#222">granulysin</text>
<text transform="translate(369.71 132) rotate(-45)" x="0" y="0" font-size="8.6" text-anchor="end" fill="#222">IL-17A</text>
<text transform="translate(410.68 132) rotate(-45)" x="0" y="0" font-size="8.6" text-anchor="end" fill="#222">TNF-a</text>
<text transform="translate(451.65 132) rotate(-45)" x="0" y="0" font-size="8.6" text-anchor="end" fill="#222">IL-4</text>
<text transform="translate(492.62 132) rotate(-45)" x="0" y="0" font-size="8.6" text-anchor="end" fill="#222">IL-10</text>
<line x1="227.6" y1="198.2" x2="227.6" y2="219.2" stroke="#2a2a2a" stroke-width="1.5"/>
<line x1="225.4" y1="219.2" x2="229.8" y2="219.2" stroke="#2a2a2a" stroke-width="1.1"/>
<line x1="227.6" y1="226.1" x2="227.6" y2="296.6" stroke="#2a2a2a" stroke-width="1.5"/>
<line x1="225.4" y1="226.1" x2="229.8" y2="226.1" stroke="#2a2a2a" stroke-width="1.1"/>
<line x1="224" y1="201.4" x2="227.6" y2="201.4" stroke="#2a2a2a" stroke-width="1"/>
<text transform="translate(221.3 203.7) scale(1.1 1)" font-size="7.5" text-anchor="end" fill="#222" >1625</text>
<line x1="224" y1="219.2" x2="227.6" y2="219.2" stroke="#2a2a2a" stroke-width="1"/>
<text transform="translate(221.3 221.5) scale(1.1 1)" font-size="7.5" text-anchor="end" fill="#222" >625</text>
<line x1="224" y1="226.3" x2="227.6" y2="226.3" stroke="#2a2a2a" stroke-width="1"/>
<text transform="translate(221.3 228.6) scale(1.1 1)" font-size="7.5" text-anchor="end" fill="#222" >600</text>
<line x1="224" y1="243.8" x2="227.6" y2="243.8" stroke="#2a2a2a" stroke-width="1"/>
<text transform="translate(221.3 246.1) scale(1.1 1)" font-size="7.5" text-anchor="end" fill="#222" >450</text>
<line x1="224" y1="261.4" x2="227.6" y2="261.4" stroke="#2a2a2a" stroke-width="1"/>
<text transform="translate(221.3 263.7) scale(1.1 1)" font-size="7.5" text-anchor="end" fill="#222" >300</text>
<line x1="224" y1="278.9" x2="227.6" y2="278.9" stroke="#2a2a2a" stroke-width="1"/>
<text transform="translate(221.3 281.2) scale(1.1 1)" font-size="7.5" text-anchor="end" fill="#222" >150</text>
<line x1="224" y1="296.6" x2="227.6" y2="296.6" stroke="#2a2a2a" stroke-width="1"/>
<text transform="translate(221.3 298.9) scale(1.1 1)" font-size="7.5" text-anchor="end" fill="#222" >0</text>
<text transform="translate(265.9 191.8) scale(1.04 1)" font-size="9.6" text-anchor="middle" fill="#222" style="stroke-width:0.08px">CD8 T</text>
<line x1="227.6" y1="296.6" x2="480.2" y2="296.6" stroke="#141414" stroke-width="1.3"/>
<line x1="247.5" y1="296.6" x2="247.5" y2="299.6" stroke="#2a2a2a" stroke-width="0.9"/>
<line x1="289.94" y1="296.6" x2="289.94" y2="299.6" stroke="#2a2a2a" stroke-width="0.9"/>
<line x1="332.38" y1="296.6" x2="332.38" y2="299.6" stroke="#2a2a2a" stroke-width="0.9"/>
<line x1="374.82" y1="296.6" x2="374.82" y2="299.6" stroke="#2a2a2a" stroke-width="0.9"/>
<line x1="417.26" y1="296.6" x2="417.26" y2="299.6" stroke="#2a2a2a" stroke-width="0.9"/>
<line x1="459.7" y1="296.6" x2="459.7" y2="299.6" stroke="#2a2a2a" stroke-width="0.9"/>
<rect x="229.8" y="237.25" width="4" height="59.35" fill="#cb0628"/>
<line x1="231.8" y1="235.4" x2="231.8" y2="237.25" stroke="#6f0316" stroke-width="0.9"/>
<line x1="230.2" y1="235.4" x2="233.4" y2="235.4" stroke="#6f0316" stroke-width="0.9"/>
<rect x="236.17" y="248.75" width="4" height="47.85" fill="#1b4d8c"/>
<rect x="242.54" y="274.4" width="4" height="22.2" fill="#3aab3c"/>
<line x1="244.54" y1="271.5" x2="244.54" y2="274.4" stroke="#1f5e21" stroke-width="0.9"/>
<line x1="242.94" y1="271.5" x2="246.14" y2="271.5" stroke="#1f5e21" stroke-width="0.9"/>
<rect x="248.91" y="293.1" width="4" height="3.5" fill="#3e4859"/>
<rect x="255.28" y="293.4" width="4" height="3.2" fill="#92949c"/>
<rect x="261.65" y="290.6" width="4" height="6" fill="#c9cacd"/>
<line x1="263.65" y1="288.5" x2="263.65" y2="290.6" stroke="#3a3c42" stroke-width="0.9"/>
<line x1="262.05" y1="288.5" x2="265.25" y2="288.5" stroke="#3a3c42" stroke-width="0.9"/>
<rect x="272.24" y="231.9" width="4" height="64.7" fill="#cb0628"/>
<line x1="274.24" y1="230" x2="274.24" y2="231.9" stroke="#6f0316" stroke-width="0.9"/>
<line x1="272.64" y1="230" x2="275.84" y2="230" stroke="#6f0316" stroke-width="0.9"/>
<rect x="278.61" y="243.5" width="4" height="53.1" fill="#1b4d8c"/>
<rect x="284.98" y="265.5" width="4" height="31.1" fill="#3aab3c"/>
<line x1="286.98" y1="263" x2="286.98" y2="265.5" stroke="#1f5e21" stroke-width="0.9"/>
<line x1="285.38" y1="263" x2="288.58" y2="263" stroke="#1f5e21" stroke-width="0.9"/>
<rect x="291.35" y="283.1" width="4" height="13.5" fill="#3e4859"/>
<rect x="297.72" y="283.75" width="4" height="12.85" fill="#92949c"/>
<rect x="304.09" y="276.25" width="4" height="20.35" fill="#c9cacd"/>
<line x1="306.09" y1="272.25" x2="306.09" y2="276.25" stroke="#3a3c42" stroke-width="0.9"/>
<line x1="304.49" y1="272.25" x2="307.69" y2="272.25" stroke="#3a3c42" stroke-width="0.9"/>
<rect x="314.68" y="231" width="4" height="65.6" fill="#cb0628"/>
<line x1="316.68" y1="229" x2="316.68" y2="231" stroke="#6f0316" stroke-width="0.9"/>
<line x1="315.08" y1="229" x2="318.28" y2="229" stroke="#6f0316" stroke-width="0.9"/>
<rect x="321.05" y="246.25" width="4" height="50.35" fill="#1b4d8c"/>
<rect x="327.42" y="268.75" width="4" height="27.85" fill="#3aab3c"/>
<line x1="329.42" y1="262.5" x2="329.42" y2="268.75" stroke="#1f5e21" stroke-width="0.9"/>
<line x1="327.82" y1="262.5" x2="331.02" y2="262.5" stroke="#1f5e21" stroke-width="0.9"/>
<rect x="333.79" y="286.5" width="4" height="10.1" fill="#3e4859"/>
<rect x="340.16" y="287.5" width="4" height="9.1" fill="#92949c"/>
<line x1="342.16" y1="286.25" x2="342.16" y2="287.5" stroke="#3a3c42" stroke-width="0.9"/>
<line x1="340.56" y1="286.25" x2="343.76" y2="286.25" stroke="#3a3c42" stroke-width="0.9"/>
<rect x="346.53" y="271.25" width="4" height="25.35" fill="#c9cacd"/>
<line x1="348.53" y1="259.4" x2="348.53" y2="271.25" stroke="#3a3c42" stroke-width="0.9"/>
<line x1="346.93" y1="259.4" x2="350.13" y2="259.4" stroke="#3a3c42" stroke-width="0.9"/>
<rect x="357.12" y="290.2" width="4" height="6.4" fill="#cb0628"/>
<rect x="363.49" y="293.3" width="4" height="3.3" fill="#1b4d8c"/>
<rect x="370.06" y="294.3" width="3.6" height="2.3" fill="#143b15"/>
<rect x="376.43" y="294.3" width="3.6" height="2.3" fill="#15191f"/>
<rect x="382.8" y="295" width="3.6" height="1.6" fill="#333336"/>
<rect x="389.17" y="295" width="3.6" height="1.6" fill="#464647"/>
<line x1="390.97" y1="292.6" x2="390.97" y2="295.6" stroke="#3a3c42" stroke-width="0.9"/>
<line x1="389.37" y1="292.6" x2="392.57" y2="292.6" stroke="#3a3c42" stroke-width="0.9"/>
<rect x="442.2" y="294.9" width="3.6" height="1.7" fill="#47020e"/>
<rect x="448.57" y="294.9" width="3.6" height="1.7" fill="#091a31"/>
<rect x="454.94" y="295" width="3.6" height="1.6" fill="#143b15"/>
<line x1="232.5" y1="222.75" x2="247.25" y2="222.75" stroke="#262626" stroke-width="1"/>
<ellipse cx="236.68" cy="218.25" rx="1.0" ry="1.15" fill="#1e1e1e"/>
<ellipse cx="239.88" cy="218.25" rx="1.0" ry="1.15" fill="#1e1e1e"/>
<ellipse cx="243.08" cy="218.25" rx="1.0" ry="1.15" fill="#1e1e1e"/>
<line x1="232.5" y1="230.6" x2="240.25" y2="230.6" stroke="#262626" stroke-width="1"/>
<ellipse cx="234.78" cy="226.1" rx="1.0" ry="1.15" fill="#1e1e1e"/>
<ellipse cx="237.97" cy="226.1" rx="1.0" ry="1.15" fill="#1e1e1e"/>
<line x1="273.75" y1="224.4" x2="281.6" y2="224.4" stroke="#262626" stroke-width="1"/>
<ellipse cx="276.07" cy="219.9" rx="1.0" ry="1.15" fill="#1e1e1e"/>
<ellipse cx="279.27" cy="219.9" rx="1.0" ry="1.15" fill="#1e1e1e"/>
<line x1="316.25" y1="224.4" x2="324.75" y2="224.4" stroke="#262626" stroke-width="1"/>
<ellipse cx="317.3" cy="219.9" rx="1.0" ry="1.15" fill="#1e1e1e"/>
<ellipse cx="320.5" cy="219.9" rx="1.0" ry="1.15" fill="#1e1e1e"/>
<ellipse cx="323.7" cy="219.9" rx="1.0" ry="1.15" fill="#1e1e1e"/>
<line x1="402.3" y1="284.1" x2="417" y2="284.1" stroke="#262626" stroke-width="1"/>
<ellipse cx="404.85" cy="279.6" rx="1.0" ry="1.15" fill="#1e1e1e"/>
<ellipse cx="408.05" cy="279.6" rx="1.0" ry="1.15" fill="#1e1e1e"/>
<ellipse cx="411.25" cy="279.6" rx="1.0" ry="1.15" fill="#1e1e1e"/>
<ellipse cx="414.45" cy="279.6" rx="1.0" ry="1.15" fill="#1e1e1e"/>
<line x1="402.3" y1="291.9" x2="410" y2="291.9" stroke="#262626" stroke-width="1"/>
<ellipse cx="404.55" cy="287.4" rx="1.0" ry="1.15" fill="#1e1e1e"/>
<ellipse cx="407.75" cy="287.4" rx="1.0" ry="1.15" fill="#1e1e1e"/>
<line x1="443.8" y1="283.2" x2="458.6" y2="283.2" stroke="#262626" stroke-width="1"/>
<ellipse cx="448" cy="278.7" rx="1.0" ry="1.15" fill="#1e1e1e"/>
<ellipse cx="451.2" cy="278.7" rx="1.0" ry="1.15" fill="#1e1e1e"/>
<ellipse cx="454.4" cy="278.7" rx="1.0" ry="1.15" fill="#1e1e1e"/>
<line x1="443.8" y1="291.6" x2="451.2" y2="291.6" stroke="#262626" stroke-width="1"/>
<text x="447.5" y="289.4" font-size="7.7" text-anchor="middle" font-weight="normal" fill="#222" style="stroke-width:0.12px">ns</text>
<text transform="translate(247.4 306.2) rotate(-45)" x="0" y="0" font-size="8.6" text-anchor="end" fill="#222">sFasL</text>
<text transform="translate(289.84 306.2) rotate(-45)" x="0" y="0" font-size="8.6" text-anchor="end" fill="#222">Perforin</text>
<text transform="translate(332.28 306.2) rotate(-45)" x="0" y="0" font-size="8.6" text-anchor="end" fill="#222">granulysin</text>
<text transform="translate(374.72 306.2) rotate(-45)" x="0" y="0" font-size="8.6" text-anchor="end" fill="#222">IL-17A</text>
<text transform="translate(417.16 306.2) rotate(-45)" x="0" y="0" font-size="8.6" text-anchor="end" fill="#222">TNF-a</text>
<text transform="translate(459.6 306.2) rotate(-45)" x="0" y="0" font-size="8.6" text-anchor="end" fill="#222">IL-10</text>
<line x1="227.6" y1="382.3" x2="227.6" y2="402.8" stroke="#2a2a2a" stroke-width="1.5"/>
<line x1="225.4" y1="402.8" x2="229.8" y2="402.8" stroke="#2a2a2a" stroke-width="1.1"/>
<line x1="227.6" y1="409.3" x2="227.6" y2="478.9" stroke="#2a2a2a" stroke-width="1.5"/>
<line x1="225.4" y1="409.3" x2="229.8" y2="409.3" stroke="#2a2a2a" stroke-width="1.1"/>
<line x1="224" y1="384.4" x2="227.6" y2="384.4" stroke="#2a2a2a" stroke-width="1"/>
<text transform="translate(221.3 386.7) scale(1.1 1)" font-size="7.5" text-anchor="end" fill="#222" >1625</text>
<line x1="224" y1="402.8" x2="227.6" y2="402.8" stroke="#2a2a2a" stroke-width="1"/>
<text transform="translate(221.3 405.1) scale(1.1 1)" font-size="7.5" text-anchor="end" fill="#222" >625</text>
<line x1="224" y1="409.2" x2="227.6" y2="409.2" stroke="#2a2a2a" stroke-width="1"/>
<text transform="translate(221.3 411.5) scale(1.1 1)" font-size="7.5" text-anchor="end" fill="#222" >600</text>
<line x1="224" y1="426.8" x2="227.6" y2="426.8" stroke="#2a2a2a" stroke-width="1"/>
<text transform="translate(221.3 429.1) scale(1.1 1)" font-size="7.5" text-anchor="end" fill="#222" >450</text>
<line x1="224" y1="444.1" x2="227.6" y2="444.1" stroke="#2a2a2a" stroke-width="1"/>
<text transform="translate(221.3 446.4) scale(1.1 1)" font-size="7.5" text-anchor="end" fill="#222" >300</text>
<line x1="224" y1="461.5" x2="227.6" y2="461.5" stroke="#2a2a2a" stroke-width="1"/>
<text transform="translate(221.3 463.8) scale(1.1 1)" font-size="7.5" text-anchor="end" fill="#222" >150</text>
<line x1="224" y1="478.9" x2="227.6" y2="478.9" stroke="#2a2a2a" stroke-width="1"/>
<text transform="translate(221.3 481.2) scale(1.1 1)" font-size="7.5" text-anchor="end" fill="#222" >0</text>
<text transform="translate(265.9 368.2) scale(1.04 1)" font-size="9.6" text-anchor="middle" fill="#222" style="stroke-width:0.08px">CD4 T</text>
<line x1="227.6" y1="478.9" x2="510" y2="478.9" stroke="#141414" stroke-width="1.3"/>
<line x1="244.1" y1="478.9" x2="244.1" y2="481.9" stroke="#2a2a2a" stroke-width="0.9"/>
<line x1="279.67" y1="478.9" x2="279.67" y2="481.9" stroke="#2a2a2a" stroke-width="0.9"/>
<line x1="315.24" y1="478.9" x2="315.24" y2="481.9" stroke="#2a2a2a" stroke-width="0.9"/>
<line x1="350.81" y1="478.9" x2="350.81" y2="481.9" stroke="#2a2a2a" stroke-width="0.9"/>
<line x1="386.38" y1="478.9" x2="386.38" y2="481.9" stroke="#2a2a2a" stroke-width="0.9"/>
<line x1="421.95" y1="478.9" x2="421.95" y2="481.9" stroke="#2a2a2a" stroke-width="0.9"/>
<line x1="457.52" y1="478.9" x2="457.52" y2="481.9" stroke="#2a2a2a" stroke-width="0.9"/>
<line x1="493.09" y1="478.9" x2="493.09" y2="481.9" stroke="#2a2a2a" stroke-width="0.9"/>
<rect x="230.2" y="422.6" width="4.6" height="56.3" fill="#6b4317"/>
<rect x="237.85" y="435.5" width="4.6" height="43.4" fill="#cb0628"/>
<line x1="240.15" y1="432.7" x2="240.15" y2="435.5" stroke="#6f0316" stroke-width="0.9"/>
<line x1="238.55" y1="432.7" x2="241.75" y2="432.7" stroke="#6f0316" stroke-width="0.9"/>
<rect x="245.5" y="472.5" width="4.6" height="6.4" fill="#46515f"/>
<rect x="253.35" y="475.8" width="4.2" height="3.1" fill="#7a7c84"/>
<rect x="265.77" y="447.7" width="4.6" height="31.2" fill="#6b4317"/>
<rect x="273.42" y="449.4" width="4.6" height="29.5" fill="#cb0628"/>
<rect x="281.07" y="465.5" width="4.6" height="13.4" fill="#46515f"/>
<rect x="288.72" y="471.4" width="4.6" height="7.5" fill="#a3a6b0"/>
<rect x="301.34" y="470.2" width="4.6" height="8.7" fill="#6b4317"/>
<rect x="308.99" y="449.8" width="4.6" height="29.1" fill="#cb0628"/>
<line x1="311.29" y1="446" x2="311.29" y2="449.8" stroke="#6f0316" stroke-width="0.9"/>
<line x1="309.69" y1="446" x2="312.89" y2="446" stroke="#6f0316" stroke-width="0.9"/>
<rect x="316.64" y="472.2" width="4.6" height="6.7" fill="#46515f"/>
<rect x="324.29" y="469.7" width="4.6" height="9.2" fill="#a3a6b0"/>
<rect x="336.91" y="470.8" width="4.6" height="8.1" fill="#6b4317"/>
<rect x="344.56" y="470.8" width="4.6" height="8.1" fill="#cb0628"/>
<rect x="352.41" y="476.7" width="4.2" height="2.2" fill="#181c21"/>
<rect x="360.06" y="475.7" width="4.2" height="3.2" fill="#7a7c84"/>
<rect x="372.68" y="475.7" width="4.2" height="3.2" fill="#251708"/>
<rect x="408.05" y="461.3" width="4.6" height="17.6" fill="#6b4317"/>
<rect x="415.9" y="477.3" width="4.2" height="1.6" fill="#47020e"/>
<rect x="443.62" y="409.9" width="4.6" height="69" fill="#6b4317"/>
<rect x="443.62" y="386.2" width="4.6" height="16.6" fill="#6b4317"/>
<rect x="451.27" y="475.3" width="4.6" height="3.6" fill="#cb0628"/>
<rect x="458.92" y="475.3" width="4.6" height="3.6" fill="#46515f"/>
<rect x="466.57" y="475.3" width="4.6" height="3.6" fill="#a3a6b0"/>
<rect x="479.19" y="467" width="4.6" height="11.9" fill="#6b4317"/>
<rect x="487.04" y="476.7" width="4.2" height="2.2" fill="#47020e"/>
<line x1="231.2" y1="415.9" x2="242.6" y2="415.9" stroke="#262626" stroke-width="1"/>
<ellipse cx="236.9" cy="411.4" rx="1.0" ry="1.15" fill="#1e1e1e"/>
<line x1="267.1" y1="442.1" x2="277.8" y2="442.1" stroke="#262626" stroke-width="1"/>
<text x="272.45" y="439.9" font-size="7.7" text-anchor="middle" font-weight="normal" fill="#222" style="stroke-width:0.12px">ns</text>
<line x1="337.3" y1="465.1" x2="348.2" y2="465.1" stroke="#262626" stroke-width="1"/>
<text x="342.75" y="462.9" font-size="7.7" text-anchor="middle" font-weight="normal" fill="#222" style="stroke-width:0.12px">ns</text>
<line x1="372" y1="470.6" x2="383.1" y2="470.6" stroke="#262626" stroke-width="1"/>
<ellipse cx="372.75" cy="466.1" rx="1.0" ry="1.15" fill="#1e1e1e"/>
<ellipse cx="375.95" cy="466.1" rx="1.0" ry="1.15" fill="#1e1e1e"/>
<ellipse cx="379.15" cy="466.1" rx="1.0" ry="1.15" fill="#1e1e1e"/>
<ellipse cx="382.35" cy="466.1" rx="1.0" ry="1.15" fill="#1e1e1e"/>
<line x1="408" y1="456.2" x2="419.3" y2="456.2" stroke="#262626" stroke-width="1"/>
<ellipse cx="408.85" cy="451.7" rx="1.0" ry="1.15" fill="#1e1e1e"/>
<ellipse cx="412.05" cy="451.7" rx="1.0" ry="1.15" fill="#1e1e1e"/>
<ellipse cx="415.25" cy="451.7" rx="1.0" ry="1.15" fill="#1e1e1e"/>
<ellipse cx="418.45" cy="451.7" rx="1.0" ry="1.15" fill="#1e1e1e"/>
<line x1="443.5" y1="380.4" x2="454.5" y2="380.4" stroke="#262626" stroke-width="1"/>
<ellipse cx="444.2" cy="375.9" rx="1.0" ry="1.15" fill="#1e1e1e"/>
<ellipse cx="447.4" cy="375.9" rx="1.0" ry="1.15" fill="#1e1e1e"/>
<ellipse cx="450.6" cy="375.9" rx="1.0" ry="1.15" fill="#1e1e1e"/>
<ellipse cx="453.8" cy="375.9" rx="1.0" ry="1.15" fill="#1e1e1e"/>
<line x1="479.7" y1="461.4" x2="491.2" y2="461.4" stroke="#262626" stroke-width="1"/>
<ellipse cx="480.65" cy="456.9" rx="1.0" ry="1.15" fill="#1e1e1e"/>
<ellipse cx="483.85" cy="456.9" rx="1.0" ry="1.15" fill="#1e1e1e"/>
<ellipse cx="487.05" cy="456.9" rx="1.0" ry="1.15" fill="#1e1e1e"/>
<ellipse cx="490.25" cy="456.9" rx="1.0" ry="1.15" fill="#1e1e1e"/>
<text transform="translate(244 488.5) rotate(-45)" x="0" y="0" font-size="8.6" text-anchor="end" fill="#222">sFasL</text>
<text transform="translate(279.57 488.5) rotate(-45)" x="0" y="0" font-size="8.6" text-anchor="end" fill="#222">Perforin</text>
<text transform="translate(315.14 488.5) rotate(-45)" x="0" y="0" font-size="8.6" text-anchor="end" fill="#222">granulysin</text>
<text transform="translate(350.71 488.5) rotate(-45)" x="0" y="0" font-size="8.6" text-anchor="end" fill="#222">IL-17A</text>
<text transform="translate(386.28 488.5) rotate(-45)" x="0" y="0" font-size="8.6" text-anchor="end" fill="#222">TNF-a</text>
<text transform="translate(421.85 488.5) rotate(-45)" x="0" y="0" font-size="8.6" text-anchor="end" fill="#222">IL-4</text>
<text transform="translate(457.42 488.5) rotate(-45)" x="0" y="0" font-size="8.6" text-anchor="end" fill="#222">IL-2</text>
<text transform="translate(492.99 488.5) rotate(-45)" x="0" y="0" font-size="8.6" text-anchor="end" fill="#222">IL-10</text>
<line x1="227.6" y1="556" x2="227.6" y2="575.6" stroke="#2a2a2a" stroke-width="1.5"/>
<line x1="225.4" y1="575.6" x2="229.8" y2="575.6" stroke="#2a2a2a" stroke-width="1.1"/>
<line x1="227.6" y1="582.6" x2="227.6" y2="652.7" stroke="#2a2a2a" stroke-width="1.5"/>
<line x1="225.4" y1="582.6" x2="229.8" y2="582.6" stroke="#2a2a2a" stroke-width="1.1"/>
<line x1="224" y1="558" x2="227.6" y2="558" stroke="#2a2a2a" stroke-width="1"/>
<text transform="translate(221.3 560.3) scale(1.1 1)" font-size="7.5" text-anchor="end" fill="#222" >1625</text>
<line x1="224" y1="575.6" x2="227.6" y2="575.6" stroke="#2a2a2a" stroke-width="1"/>
<text transform="translate(221.3 577.9) scale(1.1 1)" font-size="7.5" text-anchor="end" fill="#222" >625</text>
<line x1="224" y1="582.8" x2="227.6" y2="582.8" stroke="#2a2a2a" stroke-width="1"/>
<text transform="translate(221.3 585.1) scale(1.1 1)" font-size="7.5" text-anchor="end" fill="#222" >600</text>
<line x1="224" y1="600.2" x2="227.6" y2="600.2" stroke="#2a2a2a" stroke-width="1"/>
<text transform="translate(221.3 602.5) scale(1.1 1)" font-size="7.5" text-anchor="end" fill="#222" >450</text>
<line x1="224" y1="617.5" x2="227.6" y2="617.5" stroke="#2a2a2a" stroke-width="1"/>
<text transform="translate(221.3 619.8) scale(1.1 1)" font-size="7.5" text-anchor="end" fill="#222" >300</text>
<line x1="224" y1="635" x2="227.6" y2="635" stroke="#2a2a2a" stroke-width="1"/>
<text transform="translate(221.3 637.3) scale(1.1 1)" font-size="7.5" text-anchor="end" fill="#222" >150</text>
<line x1="224" y1="652.7" x2="227.6" y2="652.7" stroke="#2a2a2a" stroke-width="1"/>
<text transform="translate(221.3 655) scale(1.1 1)" font-size="7.5" text-anchor="end" fill="#222" >0</text>
<text transform="translate(265.9 548.7) scale(1.04 1)" font-size="9.6" text-anchor="middle" fill="#222" style="stroke-width:0.08px">CD8 T</text>
<line x1="227.6" y1="652.7" x2="511.3" y2="652.7" stroke="#141414" stroke-width="1.3"/>
<line x1="244" y1="652.7" x2="244" y2="655.7" stroke="#2a2a2a" stroke-width="0.9"/>
<line x1="279.69" y1="652.7" x2="279.69" y2="655.7" stroke="#2a2a2a" stroke-width="0.9"/>
<line x1="315.38" y1="652.7" x2="315.38" y2="655.7" stroke="#2a2a2a" stroke-width="0.9"/>
<line x1="351.07" y1="652.7" x2="351.07" y2="655.7" stroke="#2a2a2a" stroke-width="0.9"/>
<line x1="386.76" y1="652.7" x2="386.76" y2="655.7" stroke="#2a2a2a" stroke-width="0.9"/>
<line x1="422.45" y1="652.7" x2="422.45" y2="655.7" stroke="#2a2a2a" stroke-width="0.9"/>
<line x1="458.14" y1="652.7" x2="458.14" y2="655.7" stroke="#2a2a2a" stroke-width="0.9"/>
<line x1="493.83" y1="652.7" x2="493.83" y2="655.7" stroke="#2a2a2a" stroke-width="0.9"/>
<rect x="230.5" y="607.2" width="4.7" height="45.5" fill="#6b4317"/>
<rect x="238.05" y="595.7" width="4.7" height="57" fill="#cb0628"/>
<line x1="240.4" y1="593.4" x2="240.4" y2="595.7" stroke="#6f0316" stroke-width="0.9"/>
<line x1="238.8" y1="593.4" x2="242" y2="593.4" stroke="#6f0316" stroke-width="0.9"/>
<rect x="245.6" y="645.8" width="4.7" height="6.9" fill="#46515f"/>
<rect x="253.15" y="647.2" width="4.7" height="5.5" fill="#a3a6b0"/>
<line x1="255.5" y1="644.7" x2="255.5" y2="647.2" stroke="#80838c" stroke-width="1.2"/>
<line x1="253.9" y1="644.7" x2="257.1" y2="644.7" stroke="#80838c" stroke-width="0.9"/>
<rect x="266.19" y="601.5" width="4.7" height="51.2" fill="#6b4317"/>
<rect x="273.74" y="592.8" width="4.7" height="59.9" fill="#cb0628"/>
<line x1="276.09" y1="590.5" x2="276.09" y2="592.8" stroke="#6f0316" stroke-width="0.9"/>
<line x1="274.49" y1="590.5" x2="277.69" y2="590.5" stroke="#6f0316" stroke-width="0.9"/>
<rect x="281.29" y="636.1" width="4.7" height="16.6" fill="#46515f"/>
<rect x="288.84" y="636.7" width="4.7" height="16" fill="#a3a6b0"/>
<line x1="291.19" y1="633.5" x2="291.19" y2="636.7" stroke="#80838c" stroke-width="1.2"/>
<line x1="289.59" y1="633.5" x2="292.79" y2="633.5" stroke="#80838c" stroke-width="0.9"/>
<rect x="301.88" y="630.9" width="4.7" height="21.8" fill="#6b4317"/>
<line x1="304.23" y1="629.2" x2="304.23" y2="630.9" stroke="#3a240c" stroke-width="0.9"/>
<line x1="302.63" y1="629.2" x2="305.83" y2="629.2" stroke="#3a240c" stroke-width="0.9"/>
<rect x="309.43" y="592.4" width="4.7" height="60.3" fill="#cb0628"/>
<line x1="311.78" y1="587.3" x2="311.78" y2="592.4" stroke="#6f0316" stroke-width="0.9"/>
<line x1="310.18" y1="587.3" x2="313.38" y2="587.3" stroke="#6f0316" stroke-width="0.9"/>
<rect x="316.98" y="642.6" width="4.7" height="10.1" fill="#46515f"/>
<line x1="319.33" y1="641.4" x2="319.33" y2="642.6" stroke="#3a3c42" stroke-width="0.9"/>
<line x1="317.73" y1="641.4" x2="320.93" y2="641.4" stroke="#3a3c42" stroke-width="0.9"/>
<rect x="324.53" y="622.2" width="4.7" height="30.5" fill="#a3a6b0"/>
<line x1="326.88" y1="607.5" x2="326.88" y2="622.2" stroke="#80838c" stroke-width="1.2"/>
<line x1="325.28" y1="607.5" x2="328.48" y2="607.5" stroke="#80838c" stroke-width="0.9"/>
<rect x="337.57" y="646.8" width="4.7" height="5.9" fill="#6b4317"/>
<rect x="345.12" y="641.1" width="4.7" height="11.6" fill="#cb0628"/>
<rect x="352.87" y="649.8" width="4.3" height="2.9" fill="#181c21"/>
<rect x="360.42" y="649.7" width="4.3" height="3" fill="#7a7c84"/>
<rect x="444.64" y="641.1" width="4.7" height="11.6" fill="#6b4317"/>
<rect x="452.19" y="648.5" width="4.7" height="4.2" fill="#cb0628"/>
<rect x="459.74" y="648.5" width="4.7" height="4.2" fill="#46515f"/>
<rect x="467.29" y="646.2" width="4.7" height="6.5" fill="#a3a6b0"/>
<line x1="469.64" y1="645" x2="469.64" y2="646.2" stroke="#80838c" stroke-width="1.2"/>
<line x1="468.04" y1="645" x2="471.24" y2="645" stroke="#80838c" stroke-width="0.9"/>
<rect x="480.53" y="650" width="4.3" height="2.7" fill="#251708"/>
<rect x="488.08" y="650.6" width="4.3" height="2.1" fill="#47020e"/>
<line x1="231.1" y1="588" x2="242.6" y2="588" stroke="#262626" stroke-width="1"/>
<ellipse cx="235.25" cy="583.5" rx="1.0" ry="1.15" fill="#1e1e1e"/>
<ellipse cx="238.45" cy="583.5" rx="1.0" ry="1.15" fill="#1e1e1e"/>
<line x1="266.6" y1="585.4" x2="277.2" y2="585.4" stroke="#262626" stroke-width="1"/>
<ellipse cx="271.9" cy="580.9" rx="1.0" ry="1.15" fill="#1e1e1e"/>
<line x1="337.6" y1="635.2" x2="348.7" y2="635.2" stroke="#262626" stroke-width="1"/>
<ellipse cx="341.55" cy="630.7" rx="1.0" ry="1.15" fill="#1e1e1e"/>
<ellipse cx="344.75" cy="630.7" rx="1.0" ry="1.15" fill="#1e1e1e"/>
<line x1="445" y1="634.6" x2="455.8" y2="634.6" stroke="#262626" stroke-width="1"/>
<ellipse cx="448.8" cy="630.1" rx="1.0" ry="1.15" fill="#1e1e1e"/>
<ellipse cx="452" cy="630.1" rx="1.0" ry="1.15" fill="#1e1e1e"/>
<line x1="481.1" y1="644.7" x2="492.4" y2="644.7" stroke="#262626" stroke-width="1"/>
<ellipse cx="485.15" cy="640.2" rx="1.0" ry="1.15" fill="#1e1e1e"/>
<ellipse cx="488.35" cy="640.2" rx="1.0" ry="1.15" fill="#1e1e1e"/>
<text transform="translate(243.9 662.3) rotate(-45)" x="0" y="0" font-size="8.6" text-anchor="end" fill="#222">sFasL</text>
<text transform="translate(279.59 662.3) rotate(-45)" x="0" y="0" font-size="8.6" text-anchor="end" fill="#222">Perforin</text>
<text transform="translate(315.28 662.3) rotate(-45)" x="0" y="0" font-size="8.6" text-anchor="end" fill="#222">granulysin</text>
<text transform="translate(350.97 662.3) rotate(-45)" x="0" y="0" font-size="8.6" text-anchor="end" fill="#222">IL-17A</text>
<text transform="translate(386.66 662.3) rotate(-45)" x="0" y="0" font-size="8.6" text-anchor="end" fill="#222">TNF-a</text>
<text transform="translate(422.35 662.3) rotate(-45)" x="0" y="0" font-size="8.6" text-anchor="end" fill="#222">IL-4</text>
<text transform="translate(458.04 662.3) rotate(-45)" x="0" y="0" font-size="8.6" text-anchor="end" fill="#222">IL-2</text>
<text transform="translate(493.73 662.3) rotate(-45)" x="0" y="0" font-size="8.6" text-anchor="end" fill="#222">IL-10</text>
<rect x="435" y="200.2" width="5.8" height="5.8" fill="#cb0628"/>
<text x="444.6" y="205.3" font-size="7.6" text-anchor="start" font-weight="normal" fill="#222" style="stroke-width:0.18px">BAFFR+ E:T = 1:2</text>
<rect x="435" y="211.7" width="5.8" height="5.8" fill="#1b4d8c"/>
<text x="444.6" y="216.8" font-size="7.6" text-anchor="start" font-weight="normal" fill="#222" style="stroke-width:0.18px">BAFFR+ E:T = 1:1</text>
<rect x="435" y="223.2" width="5.8" height="5.8" fill="#3aab3c"/>
<text x="444.6" y="228.3" font-size="7.6" text-anchor="start" font-weight="normal" fill="#222" style="stroke-width:0.18px">BAFFR+ E:T = 1:0.5</text>
<rect x="435" y="234.7" width="5.8" height="5.8" fill="#3e4859"/>
<text x="444.6" y="239.8" font-size="7.6" text-anchor="start" font-weight="normal" fill="#222" style="stroke-width:0.18px">BAFFR&#8211; E:T = 1:2</text>
<rect x="435" y="246.2" width="5.8" height="5.8" fill="#92949c"/>
<text x="444.6" y="251.3" font-size="7.6" text-anchor="start" font-weight="normal" fill="#222" style="stroke-width:0.18px">BAFFR&#8211; E:T = 1:1</text>
<rect x="435" y="257.7" width="5.8" height="5.8" fill="#c9cacd"/>
<text x="444.6" y="262.8" font-size="7.6" text-anchor="start" font-weight="normal" fill="#222" style="stroke-width:0.18px">BAFFR&#8211; E:T = 1:0.5</text>
<rect x="459.4" y="556.4" width="5.8" height="5.8" fill="#6b4317"/>
<text x="468.8" y="561.5" font-size="7.6" text-anchor="start" font-weight="normal" fill="#222" style="stroke-width:0.18px">BAFFR+ 5h</text>
<rect x="459.4" y="568.15" width="5.8" height="5.8" fill="#cb0628"/>
<text x="468.8" y="573.25" font-size="7.6" text-anchor="start" font-weight="normal" fill="#222" style="stroke-width:0.18px">BAFFR+ 20h</text>
<rect x="459.4" y="579.9" width="5.8" height="5.8" fill="#46515f"/>
<text x="468.8" y="585" font-size="7.6" text-anchor="start" font-weight="normal" fill="#222" style="stroke-width:0.18px">BAFFR&#8211; 5h</text>
<rect x="459.4" y="591.65" width="5.8" height="5.8" fill="#a3a6b0"/>
<text x="468.8" y="596.75" font-size="7.6" text-anchor="start" font-weight="normal" fill="#222" style="stroke-width:0.18px">BAFFR&#8211; 20h</text>
</svg>
</body></html>
